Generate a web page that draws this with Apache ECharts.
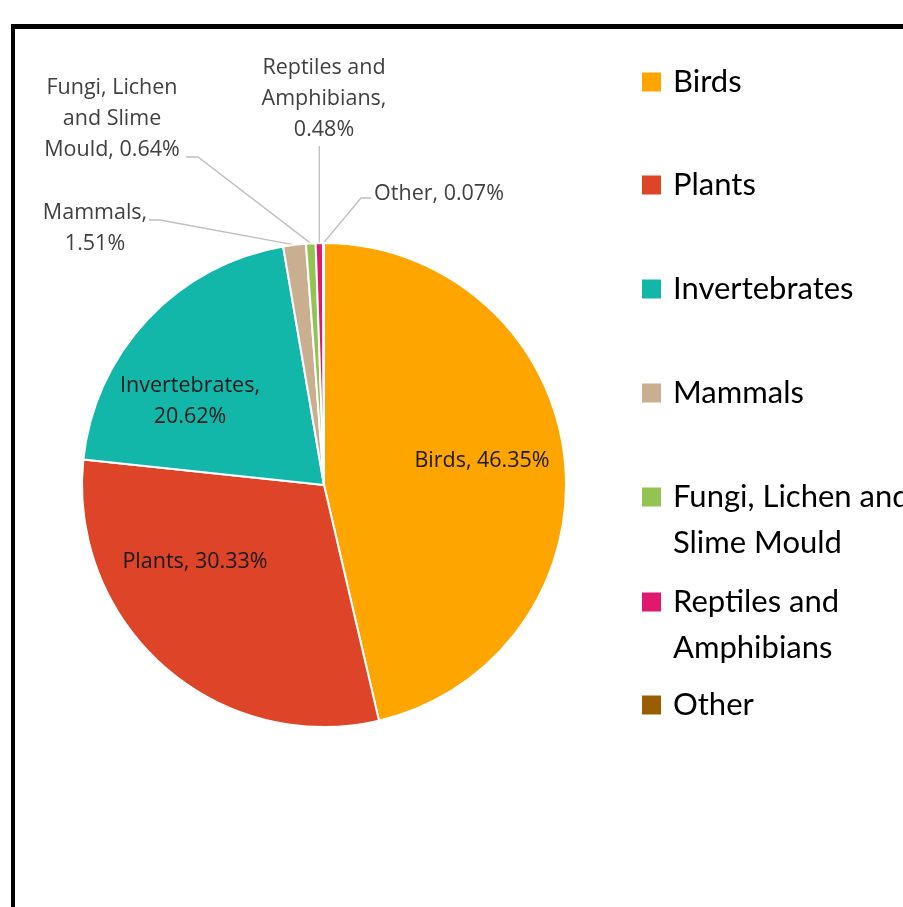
<!DOCTYPE html>
<html>
<head>
<meta charset="utf-8">
<script src="https://cdn.jsdelivr.net/npm/echarts@6/dist/echarts.min.js"></script>
<style>
  html, body { margin: 0; padding: 0; background: #fff; overflow: hidden; }
  #chart { position: absolute; left: 0; top: 0; width: 903px; height: 907px; }
  #frame { position: absolute; left: 11px; top: 24px; width: 2000px; height: 2000px;
           border-left: 4px solid #000; border-top: 5px solid #000; pointer-events: none; }
</style>
</head>
<body>
<div id="chart"></div>
<div id="frame"></div>
<script>
// ---- data ----
const categories = ['Birds', 'Plants', 'Invertebrates', 'Mammals',
  'Fungi, Lichen and Slime Mould', 'Reptiles and Amphibians', 'Other'];
const shares = [46.35, 30.33, 20.62, 1.51, 0.64, 0.48, 0.07];
const colors = ['#FFA500', '#DD4428', '#12B7AA', '#C9AF8F', '#92C353', '#E0196F', '#9A5E00'];
// label wording as shown on the chart (line breaks are presentation only)
const labelNames = ['Birds', 'Plants', 'Invertebrates,\n', 'Mammals,\n',
  'Fungi, Lichen\nand Slime\nMould', 'Reptiles and\nAmphibians,\n', 'Other'];
const legendNames = ['Birds', 'Plants', 'Invertebrates', 'Mammals',
  'Fungi, Lichen and\nSlime Mould', 'Reptiles and\nAmphibians', 'Other'];

// ---- layout (positions only) ----
const labelPos = [[482, 461], [195, 562], [190, 401], [95, 228], [112, 119], [324, 99], [439, 194]];
const legendTop = [59, 162, 266, 370, 428, 533, 682];
const isOutside = [false, false, false, true, true, true, true];

const chart = echarts.init(document.getElementById('chart'), null, { renderer: 'canvas' });

const labelFont = '"Open Sans", "Noto Sans", sans-serif';
const legendFont = 'Lato, "Open Sans", sans-serif';

const seriesData = categories.map((name, i) => ({
  name: name,
  value: shares[i],
  itemStyle: { color: colors[i] },
  label: isOutside[i]
    ? { position: 'outside', color: '#404040' }
    : { position: 'inside', color: '#1a1a1a' },
  labelLine: { show: isOutside[i] }
}));

const legends = categories.map((name, i) => {
  const twoLine = legendNames[i].indexOf('\n') >= 0;
  return {
    orient: 'vertical',
    left: 642,
    top: legendTop[i],
    padding: 0,
    itemWidth: 19,
    itemHeight: 19,
    itemGap: 0,
    icon: 'rect',
    selectedMode: false,
    data: [name],
    formatter: () => (twoLine ? '\n' : '') + legendNames[i],
    textStyle: {
      fontFamily: legendFont,
      fontSize: 31,
      color: '#000',
      lineHeight: 46,
      padding: [0, 0, 0, 7]
    },
    itemStyle: { borderWidth: 0 }
  };
});

chart.setOption({
  animation: false,
  backgroundColor: '#fff',
  legend: legends,
  series: [{
    type: 'pie',
    center: [324, 485],
    radius: 242,
    startAngle: 90,
    clockwise: true,
    percentPrecision: 2,
    avoidLabelOverlap: false,
    itemStyle: { borderColor: '#fff', borderWidth: 2 },
    label: {
      show: true,
      fontFamily: labelFont,
      fontSize: 21.5,
      lineHeight: 31,
      align: 'center',
      formatter: p => {
        const i = p.dataIndex;
        const sep = labelNames[i].endsWith('\n') ? '' : ', ';
        return labelNames[i] + sep + p.percent.toFixed(2) + '%';
      }
    },
    labelLine: { show: true, lineStyle: { color: '#BFBFBF', width: 1.3 }, length: 20, length2: 10 },
    labelLayout: params => {
      const i = params.dataIndex;
      const res = { x: labelPos[i][0], y: labelPos[i][1], align: 'center', verticalAlign: 'middle' };
      const pts = params.labelLinePoints;
      if (pts && isOutside[i]) {
        const p0 = pts[0];
        if (i === 3) res.labelLinePoints = [p0, [160, 220], [149, 220]];
        else if (i === 4) res.labelLinePoints = [p0, [198, 157], [186, 157]];
        else if (i === 5) res.labelLinePoints = [p0, [p0[0], 146], [p0[0], 146]];
        else if (i === 6) res.labelLinePoints = [p0, [361, 198], [371, 198]];
      }
      return res;
    },
    data: seriesData
  }]
});
</script>
</body>
</html>
